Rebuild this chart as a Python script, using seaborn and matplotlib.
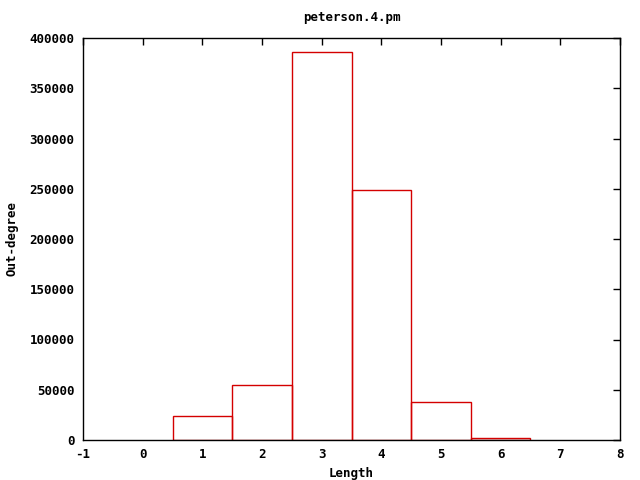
import matplotlib
matplotlib.use("Agg")
import matplotlib.pyplot as plt
import seaborn as sns
import pandas as pd

lengths = [1, 2, 3, 4, 5, 6]
outdegree = [23600, 54700, 385800, 248800, 37500, 1700]
title = "peterson.4.pm"
xlabel = "Length"
ylabel = "Out-degree"

sns.set_style("white")
plt.rcParams['font.family'] = ['DejaVu Sans Mono']
plt.rcParams['font.weight'] = 'bold'
plt.rcParams['axes.unicode_minus'] = False
plt.rcParams['text.color'] = 'black'
plt.rcParams['axes.labelcolor'] = 'black'

df = pd.DataFrame({"Length": lengths, "Out": outdegree})

fig = plt.figure(figsize=(6.4, 4.8), dpi=100)
ax = fig.add_axes([83/640, 40/480, (620-83)/640, (440-38)/480])
sns.histplot(data=df, x="Length", weights="Out", discrete=True, fill=False,
             element="bars", color="#d40000", linewidth=1.0, ax=ax)

ax.set_xlim(-1, 8)
ax.set_ylim(0, 400000)
ax.set_xticks(range(-1, 9))
ax.set_xticklabels([str(v) for v in range(-1, 9)])
ax.set_yticks(range(0, 400001, 50000))
ax.set_yticklabels([str(v) for v in range(0, 400001, 50000)])
ax.tick_params(direction='in', length=5, width=1, top=True, right=True,
               labelsize=9, colors='black', pad=6)
for lbl in ax.get_xticklabels() + ax.get_yticklabels():
    lbl.set_fontweight('bold')
for s in ax.spines.values():
    s.set_visible(True)
    s.set_color('black')
    s.set_linewidth(1)
ax.set_xlabel(xlabel, fontsize=9, fontweight='bold', labelpad=4, color='black')
ax.set_ylabel(ylabel, fontsize=9, fontweight='bold', labelpad=8, color='black')
ax.set_title(title, fontsize=9, fontweight='bold', pad=12, color='black')
ax.grid(False)

fig.savefig("out.png", dpi=100)
